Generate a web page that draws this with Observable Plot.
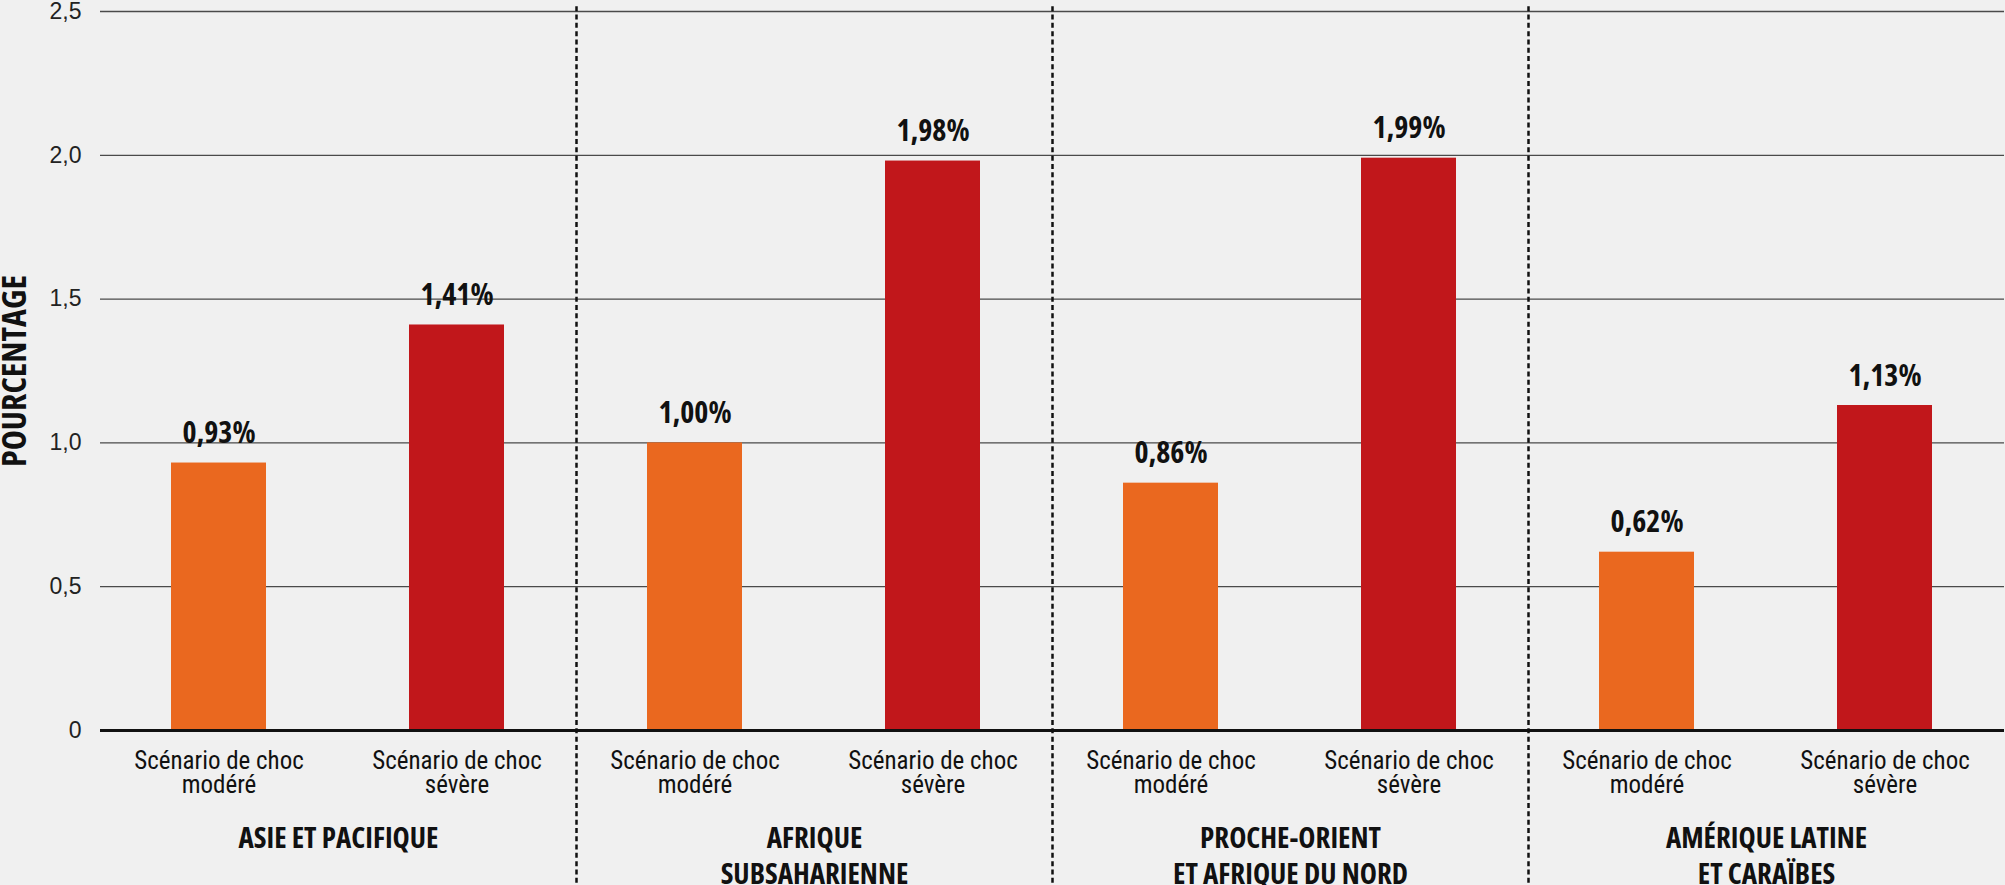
<!DOCTYPE html>
<html>
<head>
<meta charset="utf-8">
<script src="https://cdn.jsdelivr.net/npm/d3@7"></script>
<script src="https://cdn.jsdelivr.net/npm/@observablehq/plot@0.6"></script>
<style>
  html, body { margin: 0; padding: 0; background: #f0f0f0; }
  #chart svg { display: block; background: #f0f0f0; }
</style>
</head>
<body>
<div id="chart"></div>
<script>
// ---- data ----
const regions = [
  "ASIE ET PACIFIQUE",
  "AFRIQUE\nSUBSAHARIENNE",
  "PROCHE-ORIENT\nET AFRIQUE DU NORD",
  "AMÉRIQUE LATINE\nET CARAÏBES"
];
const scenarios = ["modéré", "sévère"];
const moderateValues = [0.93, 1.00, 0.86, 0.62];
const severeValues = [1.41, 1.98, 1.99, 1.13];
const yTicks = [0, 0.5, 1, 1.5, 2, 2.5];
const colors = ["#ea681f", "#c1171b"];

const table = [];
regions.forEach((r, i) => {
  table.push({region: r, scenario: scenarios[0], value: moderateValues[i]});
  table.push({region: r, scenario: scenarios[1], value: severeValues[i]});
});

const loc = d3.formatLocale({decimal: ",", thousands: " ", grouping: [3], currency: ["", "€"]});
const f2 = loc.format(".2f");
const f1 = loc.format(".1f");

const condensed = "'Open Sans', sans-serif";
const labelFont = "'Roboto Condensed', Roboto, sans-serif";
const regular = "'Liberation Sans', Arial, sans-serif";

const plot = Plot.plot({
  width: 2005,
  height: 885,
  marginLeft: 98,
  marginRight: 0,
  marginTop: 11,
  marginBottom: 155,
  style: {background: "#f0f0f0", color: "#111"},
  fx: {domain: regions, padding: 0},
  x: {domain: scenarios, paddingInner: 0.6, paddingOuter: 0.3},
  y: {domain: [0, 2.5]},
  color: {domain: scenarios, range: colors},
  marks: [
    Plot.gridY(yTicks.filter(d => d > 0), {stroke: "#4a4a4a", strokeOpacity: 1, strokeWidth: 1.3}),
    Plot.barY(table, {fx: "region", x: "scenario", y: "value", fill: "scenario"}),
    Plot.text(table, {
      fx: "region", x: "scenario", y: "value",
      text: d => f2(d.value) + "%",
      lineAnchor: "bottom", dy: -20,
      fontFamily: condensed, fontWeight: "bold", fontSize: 30, fill: "#111"
    }),
    Plot.ruleY([0], {stroke: "#111", strokeWidth: 3}),
    Plot.axisY({
      ticks: yTicks, tickSize: 0, tickPadding: 19, label: null,
      tickFormat: d => d === 0 ? "0" : f1(d),
      fontFamily: regular, fontSize: 23, fill: "#222"
    }),
    Plot.axisX({
      tickSize: 0, tickPadding: 21, label: null,
      tickFormat: d => "Scénario de choc\n" + d,
      fontFamily: labelFont, fontSize: 25, lineHeight: 0.96, fill: "#111"
    }),
    Plot.axisFx({
      anchor: "bottom", tickSize: 0, tickPadding: 92, label: null,
      fontFamily: condensed, fontWeight: "bold", fontSize: 29, lineHeight: 1.25, fill: "#111"
    }),
    Plot.text(["POURCENTAGE"], {
      fx: () => regions[0],
      frameAnchor: "left", textAnchor: "middle", rotate: -90, lineAnchor: "bottom", dx: -75,
      fontFamily: condensed, fontWeight: "bold", fontSize: 34, fill: "#111"
    }),
    ...regions.slice(1).map(r => Plot.frame({
      anchor: "left", fx: () => r,
      stroke: "#111", strokeWidth: 2.5, strokeDasharray: "2.5,5.8",
      insetTop: -4, insetBottom: -155
    }))
  ]
});
// condensed width of Open Sans (variable width axis)
plot.querySelectorAll("[font-family]").forEach(el => {
  if (el.getAttribute("font-family") === condensed) el.style.fontStretch = "75%";
});
document.getElementById("chart").appendChild(plot);
</script>
</body>
</html>
